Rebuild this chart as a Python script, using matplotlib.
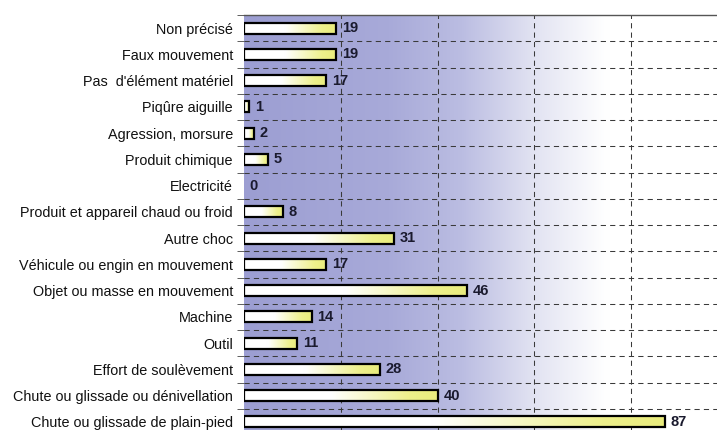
import matplotlib.pyplot as plt
import numpy as np
from matplotlib.colors import LinearSegmentedColormap

# Données
categories = [
    "Non précisé",
    "Faux mouvement",
    "Pas  d'élément matériel",
    "Piqûre aiguille",
    "Agression, morsure",
    "Produit chimique",
    "Electricité",
    "Produit et appareil chaud ou froid",
    "Autre choc",
    "Véhicule ou engin en mouvement",
    "Objet ou masse en mouvement",
    "Machine",
    "Outil",
    "Effort de soulèvement",
    "Chute ou glissade ou dénivellation",
    "Chute ou glissade de plain-pied",
]
valeurs = [19, 19, 17, 1, 2, 5, 0, 8, 31, 17, 46, 14, 11, 28, 40, 87]
grille_x = [20, 40, 60, 80]

plt.rcParams['font.family'] = ['Liberation Sans', 'DejaVu Sans']

fig = plt.figure(figsize=(7.17, 4.30), dpi=100)
ax = fig.add_axes([244 / 717, -5 / 430, 484 / 717, 420 / 430])

n = len(categories)
y = np.arange(n)

# Fond en dégradé bleu -> blanc
fond = LinearSegmentedColormap.from_list(
    "fond", [(0, "#9c9ed2"), (0.3, "#a8aad9"), (0.45, "#bbbde2"),
             (0.6, "#e2e3f2"), (0.75, "#ffffff"), (1, "#ffffff")])
grad = np.linspace(0, 1, 256).reshape(1, -1)
ax.imshow(grad, cmap=fond, aspect="auto", extent=(0, 100, n - 0.5, -0.5),
          zorder=0, interpolation="bicubic")

# Grille
for gx in grille_x:
    ax.axvline(gx, color="#3a3a3a", lw=0.75, ls=(0, (5, 4)), zorder=1)
for b in np.arange(0.5, n - 0.5, 1):
    ax.axhline(b, color="#3a3a3a", lw=0.75, ls=(0, (5, 4)), zorder=1)

# Barres en dégradé blanc -> jaune
barre = LinearSegmentedColormap.from_list(
    "barre", [(0, "#ffffff"), (0.45, "#ffffff"), (0.85, "#eef08c"), (1, "#e9ec7c")])
h = 0.42
bars = ax.barh(y, valeurs, height=h, facecolor="none", edgecolor="black",
               linewidth=1.6, zorder=3)
for rect, v in zip(bars, valeurs):
    if v <= 0:
        rect.set_visible(False)
        continue
    yy = rect.get_y()
    ax.imshow(grad, cmap=barre, aspect="auto",
              extent=(0, v, yy + h, yy), zorder=2, interpolation="bicubic")

for yi, v in zip(y, valeurs):
    ax.text(v + 1.2, yi, str(v), va="center", ha="left", fontsize=10.5,
            fontweight="bold", color="#1a1a2e", zorder=4)

ax.set_xlim(0, 100)
ax.set_ylim(n - 0.5, -0.5)

ax.set_yticks(y)
ax.set_yticklabels(categories, fontsize=10.4, color="#111111")
ax.tick_params(axis="y", which="major", length=0, pad=8)
ax.set_yticks(np.arange(-0.5, n, 1), minor=True)
ax.tick_params(axis="y", which="minor", length=5, color="#444444", direction="out")
ax.set_xticks([])

for s in ["left", "right", "bottom"]:
    ax.spines[s].set_visible(False)
ax.spines["top"].set_color("#555555")
ax.spines["top"].set_linewidth(1.0)

fig.savefig("out.png", dpi=100)
